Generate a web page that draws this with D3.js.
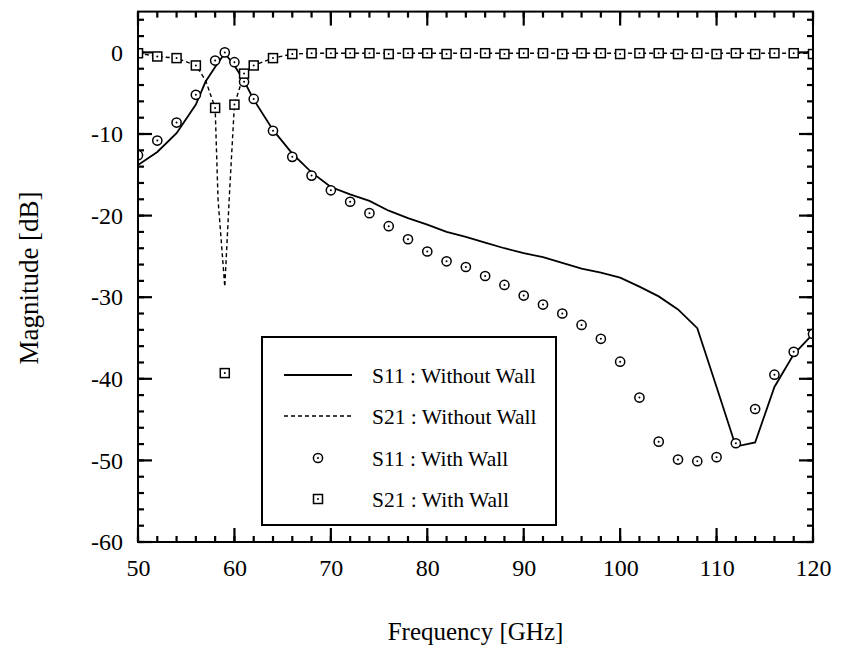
<!DOCTYPE html>
<html>
<head>
<meta charset="utf-8">
<script src="https://cdn.jsdelivr.net/npm/d3@7"></script>
<style>
  html, body { margin: 0; padding: 0; background: #fff; }
  svg { display: block; }
  text { font-family: "Liberation Serif", "DejaVu Serif", serif; fill: #000; }
</style>
</head>
<body>
<svg id="chart" width="841" height="646"></svg>
<script>
// ---- Data ----
const xMajorTicks = [50, 60, 70, 80, 90, 100, 110, 120];
const yMajorTicks = [-60, -50, -40, -30, -20, -10, 0];

// S11 : Without Wall (solid line)
const s11NoWallFreq = [50, 52, 54, 56, 57, 58, 59, 60, 61, 62, 64, 66, 68, 70, 72, 74, 76, 78, 80, 82, 84, 86, 88, 90, 92, 94, 96, 98, 100, 102, 104, 106, 108, 110, 112, 114, 116, 118, 120];
const s11NoWallDb   = [-13.8, -12.2, -9.9, -6.4, -3.6, -1.8, -0.1, -1.6, -3.5, -5.8, -9.5, -12.4, -14.7, -16.5, -17.4, -18.2, -19.4, -20.3, -21.1, -22.0, -22.6, -23.3, -24.0, -24.6, -25.1, -25.8, -26.5, -27.0, -27.6, -28.7, -29.9, -31.5, -33.8, -41.0, -48.3, -47.8, -41.0, -37.0, -34.5];

// S21 : Without Wall (dashed line)
const s21NoWallFreq = [50, 52, 54, 56, 57, 58, 58.3, 59, 59.5, 60, 61, 62, 64, 66, 68, 70, 72, 74, 76, 78, 80, 82, 84, 86, 88, 90, 92, 94, 96, 98, 100, 102, 104, 106, 108, 110, 112, 114, 116, 118, 120];
const s21NoWallDb   = [-0.1, -0.5, -0.7, -1.6, -3.4, -6.8, -18.0, -28.7, -17.0, -6.4, -2.6, -1.6, -0.7, -0.2, -0.1, -0.1, -0.1, -0.1, -0.1, -0.1, -0.1, -0.1, -0.1, -0.1, -0.1, -0.1, -0.1, -0.1, -0.1, -0.1, -0.1, -0.1, -0.1, -0.1, -0.1, -0.1, -0.1, -0.1, -0.1, -0.1, -0.1];

// S11 : With Wall (circles)
const s11WallFreq = [50, 52, 54, 56, 58, 59, 60, 61, 62, 64, 66, 68, 70, 72, 74, 76, 78, 80, 82, 84, 86, 88, 90, 92, 94, 96, 98, 100, 102, 104, 106, 108, 110, 112, 114, 116, 118, 120];
const s11WallDb   = [-12.6, -10.8, -8.6, -5.2, -1.0, 0.0, -1.2, -3.6, -5.7, -9.6, -12.8, -15.1, -16.9, -18.3, -19.7, -21.3, -22.9, -24.4, -25.6, -26.3, -27.4, -28.5, -29.8, -30.9, -32.0, -33.4, -35.1, -37.9, -42.3, -47.7, -49.9, -50.1, -49.6, -47.9, -43.7, -39.5, -36.7, -34.5];

// S21 : With Wall (squares)
const s21WallFreq = [50, 52, 54, 56, 58, 59, 60, 61, 62, 64, 66, 68, 70, 72, 74, 76, 78, 80, 82, 84, 86, 88, 90, 92, 94, 96, 98, 100, 102, 104, 106, 108, 110, 112, 114, 116, 118, 120];
const s21WallDb   = [-0.1, -0.5, -0.7, -1.6, -6.8, -39.3, -6.4, -2.6, -1.6, -0.7, -0.2, -0.1, -0.1, -0.1, -0.1, -0.2, -0.1, -0.1, -0.2, -0.1, -0.1, -0.2, -0.1, -0.1, -0.2, -0.1, -0.1, -0.2, -0.1, -0.1, -0.2, -0.1, -0.2, -0.1, -0.2, -0.1, -0.1, -0.2];

const legendLabels = ["S11 : Without Wall", "S21 : Without Wall", "S11 : With Wall", "S21 : With Wall"];
const xTitle = "Frequency [GHz]";
const yTitle = "Magnitude [dB]";

// ---- Layout ----
const L = 138, R = 813, T = 11.6, B = 542;
const svg = d3.select("#chart");
const x = d3.scaleLinear().domain([50, 120]).range([L, R]);
const y = d3.scaleLinear().domain([-60, 5]).range([B, T]);

const xMinor = d3.range(50, 121, 2);
const yMinor = d3.range(-60, 5.01, 2);
const fmt = d => String(d);

// ---- Inward tick marks on all four sides ----
const tk = svg.append("g").attr("stroke", "#000").attr("stroke-width", 2.2);
function xTicks(vals, len) {
  tk.selectAll(null).data(vals).enter().append("line")
    .attr("x1", d => x(d)).attr("x2", d => x(d)).attr("y1", B).attr("y2", B - len);
  tk.selectAll(null).data(vals).enter().append("line")
    .attr("x1", d => x(d)).attr("x2", d => x(d)).attr("y1", T).attr("y2", T + len);
}
function yTicks(vals, len) {
  tk.selectAll(null).data(vals).enter().append("line")
    .attr("y1", d => y(d)).attr("y2", d => y(d)).attr("x1", L).attr("x2", L + len);
  tk.selectAll(null).data(vals).enter().append("line")
    .attr("y1", d => y(d)).attr("y2", d => y(d)).attr("x1", R).attr("x2", R - len);
}
xTicks(xMinor, 6);
yTicks(yMinor, 6);
xTicks(xMajorTicks, 14);
yTicks(yMajorTicks, 14);

// ---- Tick labels (axis generators, tick lines hidden) ----
const gxb = svg.append("g").attr("transform", `translate(0,${B})`)
  .call(d3.axisBottom(x).tickValues(xMajorTicks).tickSize(0).tickPadding(17).tickFormat(fmt));
gxb.select(".domain").remove();
gxb.selectAll("text").attr("font-size", 24).attr("font-family", "Liberation Serif").attr("fill", "#000");

const gyl = svg.append("g").attr("transform", `translate(${L},0)`)
  .call(d3.axisLeft(y).tickValues(yMajorTicks).tickSize(0).tickPadding(15).tickFormat(fmt));
gyl.select(".domain").remove();
gyl.selectAll("text").attr("font-size", 24).attr("font-family", "Liberation Serif").attr("fill", "#000");

// clip
svg.append("clipPath").attr("id", "plotclip")
  .append("rect").attr("x", L).attr("y", T).attr("width", R - L).attr("height", B - T);
const plot = svg.append("g").attr("clip-path", "url(#plotclip)");

const line = d3.line().x(d => x(d[0])).y(d => y(d[1]));

plot.append("path")
  .datum(d3.zip(s21NoWallFreq, s21NoWallDb))
  .attr("d", line).attr("fill", "none").attr("stroke", "#000")
  .attr("stroke-width", 1.4).attr("stroke-dasharray", "4,3");

plot.append("path")
  .datum(d3.zip(s11NoWallFreq, s11NoWallDb))
  .attr("d", line).attr("fill", "none").attr("stroke", "#000")
  .attr("stroke-width", 1.8);

function drawCircle(g, cx, cy) {
  g.append("circle").attr("cx", cx).attr("cy", cy).attr("r", 4.6)
    .attr("fill", "#fff").attr("stroke", "#000").attr("stroke-width", 1.5);
  g.append("circle").attr("cx", cx).attr("cy", cy).attr("r", 1)
    .attr("fill", "#000");
}
function drawSquare(g, cx, cy) {
  g.append("rect").attr("x", cx - 4.5).attr("y", cy - 4.5).attr("width", 9).attr("height", 9)
    .attr("fill", "#fff").attr("stroke", "#000").attr("stroke-width", 1.5);
  g.append("circle").attr("cx", cx).attr("cy", cy).attr("r", 1)
    .attr("fill", "#000");
}

d3.zip(s11WallFreq, s11WallDb).forEach(d => drawCircle(plot, x(d[0]), y(d[1])));
d3.zip(s21WallFreq, s21WallDb).forEach(d => drawSquare(plot, x(d[0]), y(d[1])));

// frame
svg.append("rect").attr("x", L).attr("y", T).attr("width", R - L).attr("height", B - T)
  .attr("fill", "none").attr("stroke", "#000").attr("stroke-width", 2);

// legend
const lg = svg.append("g");
lg.append("rect").attr("x", 262).attr("y", 337).attr("width", 294).attr("height", 188)
  .attr("fill", "#fff").attr("stroke", "#000").attr("stroke-width", 2);
const rowY = [375, 416, 458, 499];
lg.append("line").attr("x1", 284).attr("x2", 352).attr("y1", rowY[0]).attr("y2", rowY[0])
  .attr("stroke", "#000").attr("stroke-width", 1.8);
lg.append("line").attr("x1", 284).attr("x2", 352).attr("y1", rowY[1]).attr("y2", rowY[1])
  .attr("stroke", "#000").attr("stroke-width", 1.4).attr("stroke-dasharray", "4,3");
drawCircle(lg, 318, rowY[2]);
drawSquare(lg, 318, rowY[3]);
legendLabels.forEach((t, i) => {
  lg.append("text").attr("x", 372).attr("y", rowY[i]).attr("dy", "0.35em")
    .attr("font-size", 21.5).text(t);
});

// axis titles
svg.append("text").attr("x", (L + R) / 2).attr("y", 640).attr("text-anchor", "middle")
  .attr("font-size", 25).text(xTitle);
svg.append("text").attr("transform", "translate(38,278) rotate(-90)")
  .attr("text-anchor", "middle").attr("font-size", 27).text(yTitle);
</script>
</body>
</html>
